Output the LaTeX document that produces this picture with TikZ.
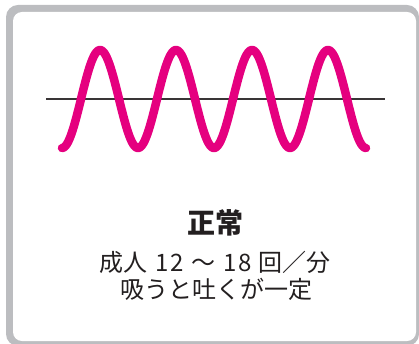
\documentclass[tikz,border=0pt]{standalone}
\usepackage{fontspec}
\newfontfamily\jp{Noto Sans CJK JP}
\definecolor{framegray}{HTML}{BCBDC0}
\definecolor{wavepink}{HTML}{E5007F}
\definecolor{ink}{HTML}{231F20}
\begin{document}
\begin{tikzpicture}[x=1pt,y=-1pt,
  txt/.style={text=ink,inner sep=0pt,anchor=center,font=\jp}]
\useasboundingbox (0,0) rectangle (419,344);
\fill[framegray,rounded corners=12pt] (6,5) rectangle (419,346);
\fill[white,rounded corners=9pt] (13,12) rectangle (416,341);
\coordinate (l) at (46,99);
\coordinate (r) at (385,99);
\draw[ink!90,line width=1.6pt] (l) -- (r);
\draw[wavepink,line width=8.5pt,line cap=round,line join=round]
  plot[domain=62:366,samples=240,smooth] (\x,{99-49*cos(4.736842*(\x-100))});
\node[txt,font=\jp\bfseries\fontsize{28}{30}\selectfont] (title) at (215,223) {正常};
\node[txt,font=\jp\fontsize{24}{26}\selectfont] (l2) at (215,262) {成人\hspace{8pt}1\hspace{1.5pt}2\hspace{8pt}～\hspace{8pt}1\hspace{1.5pt}8\hspace{6pt}回／分};
\node[txt,font=\jp\fontsize{24}{26}\selectfont] (l3) at (216,289) {吸うと吐くが一定};
\end{tikzpicture}
\end{document}
